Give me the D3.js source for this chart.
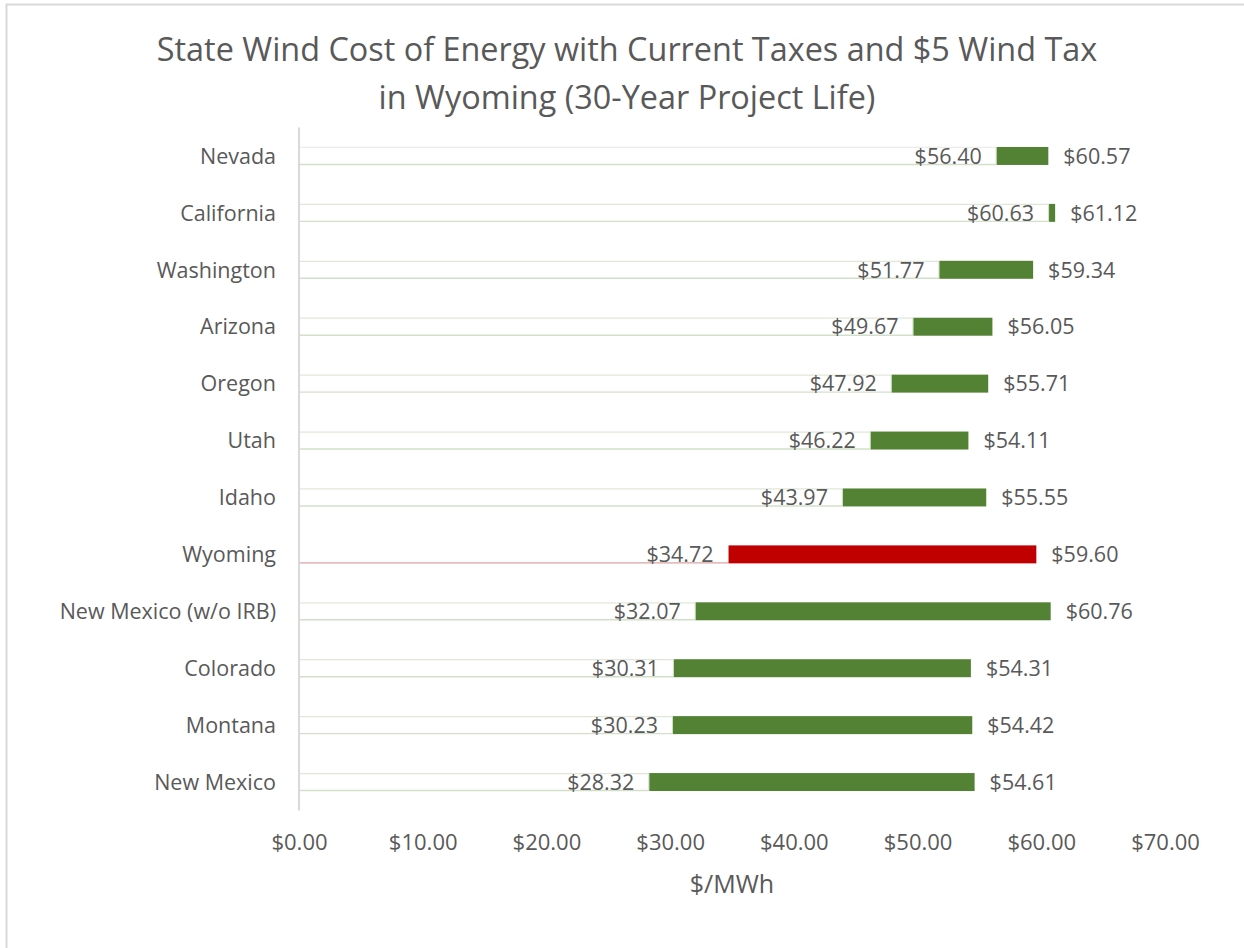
<!DOCTYPE html>
<html>
<head>
<meta charset="utf-8">
<script src="https://cdn.jsdelivr.net/npm/d3@7"></script>
<style>
  html, body { margin: 0; padding: 0; background: #fff; }
  svg { display: block; }
  text { font-family: "Open Sans", "Noto Sans", sans-serif; fill: #595959; }
</style>
</head>
<body>
<svg id="chart" width="1244" height="948"></svg>
<script>
const categories = ["Nevada", "California", "Washington", "Arizona", "Oregon", "Utah", "Idaho",
  "Wyoming", "New Mexico (w/o IRB)", "Colorado", "Montana", "New Mexico"];
const currentCost = [56.40, 60.63, 51.77, 49.67, 47.92, 46.22, 43.97, 34.72, 32.07, 30.31, 30.23, 28.32];
const taxedCost = [60.57, 61.12, 59.34, 56.05, 55.71, 54.11, 55.55, 59.60, 60.76, 54.31, 54.42, 54.61];
const highlight = ["Wyoming"];
const xTicks = [0, 10, 20, 30, 40, 50, 60, 70];
const titleLines = ["State Wind Cost of Energy with Current Taxes and $5 Wind Tax", "in Wyoming (30-Year Project Life)"];
const xAxisTitle = "$/MWh";

const svg = d3.select("#chart");
const W = 1244, H = 948;
const plot = { left: 299, right: 1165, top: 127.5, bottom: 810.5 };
const fs = 21.5;

// chart border
svg.append("rect").attr("x", 6.5).attr("y", 4.5).attr("width", W + 10).attr("height", H + 10)
  .attr("fill", "#fff").attr("stroke", "#d9d9d9").attr("stroke-width", 2);

const x = d3.scaleLinear().domain([0, 70]).range([plot.left, plot.right]);
const y = d3.scaleBand().domain(categories).range([plot.top, plot.bottom]).paddingInner(0.684).paddingOuter(0.342);

const fmt = v => "$" + d3.format(".2f")(v);
const green = "#548235", red = "#c00000";

// title
svg.append("g").selectAll("text").data(titleLines).join("text")
  .attr("x", 627).attr("y", (d, i) => 61 + i * 48)
  .attr("text-anchor", "middle").attr("font-size", 32.4).text(d => d);

const rows = categories.map((c, i) => ({ c, a: currentCost[i], b: taxedCost[i], hi: highlight.includes(c) }));

const g = svg.append("g");
// base segment (0 -> current cost), white with light outline
rows.forEach(r => {
  const y0 = y(r.c), y1 = y(r.c) + y.bandwidth();
  const col = r.hi ? "#dca3a3" : "#d3e0c9";
  g.append("rect").attr("x", x(0)).attr("y", y0).attr("width", x(r.a) - x(0)).attr("height", y.bandwidth())
    .attr("fill", "#fff");
  if (!r.hi) {
    g.append("line").attr("x1", x(0)).attr("x2", x(r.a)).attr("y1", y0 + 0.5).attr("y2", y0 + 0.5)
      .attr("stroke", r.c === categories[0] ? "#ececec" : "#dfe8d8").attr("stroke-width", 1.2);
    g.append("line").attr("x1", x(r.a) - 0.5).attr("x2", x(r.a) - 0.5).attr("y1", y0).attr("y2", y1)
      .attr("stroke", col).attr("stroke-width", 1.2);
  }
  g.append("line").attr("x1", x(0)).attr("x2", x(r.a)).attr("y1", y1 - 0.5).attr("y2", y1 - 0.5)
    .attr("stroke", col).attr("stroke-width", 1.4);
});

// increase segment (current -> with tax)
g.selectAll("rect.inc").data(rows).join("rect").attr("class", "inc")
  .attr("x", d => x(d.a)).attr("y", d => y(d.c))
  .attr("width", d => x(d.b) - x(d.a)).attr("height", y.bandwidth())
  .attr("fill", d => d.hi ? red : green);

// labels
g.selectAll("text.la").data(rows).join("text").attr("class", "la")
  .attr("x", d => x(d.a) - 15).attr("y", d => y(d.c) + y.bandwidth() / 2)
  .attr("dy", "0.36em").attr("text-anchor", "end").attr("font-size", fs).text(d => fmt(d.a));
g.selectAll("text.lb").data(rows).join("text").attr("class", "lb")
  .attr("x", d => x(d.b) + 15).attr("y", d => y(d.c) + y.bandwidth() / 2)
  .attr("dy", "0.36em").attr("text-anchor", "start").attr("font-size", fs).text(d => fmt(d.b));

// category axis
svg.append("g").selectAll("text").data(categories).join("text")
  .attr("x", 276).attr("y", d => y(d) + y.bandwidth() / 2)
  .attr("dy", "0.36em").attr("text-anchor", "end").attr("font-size", fs).text(d => d);
svg.append("line").attr("x1", plot.left).attr("x2", plot.left).attr("y1", plot.top).attr("y2", plot.bottom)
  .attr("stroke", "#d9d9d9").attr("stroke-width", 2);

// value axis
const xAxis = d3.axisBottom(x).tickValues(xTicks).tickFormat(fmt).tickSize(0).tickPadding(0);
const ax = svg.append("g").attr("transform", `translate(0,${842})`).call(xAxis);
ax.select(".domain").remove();
ax.selectAll("text").attr("font-size", 22).attr("dy", "0.36em").attr("font-family", null).attr("fill", "#595959");

svg.append("text").attr("x", (plot.left + plot.right) / 2).attr("y", 884).attr("dy", "0.36em")
  .attr("text-anchor", "middle").attr("font-size", 25).text(xAxisTitle);
</script>
</body>
</html>
